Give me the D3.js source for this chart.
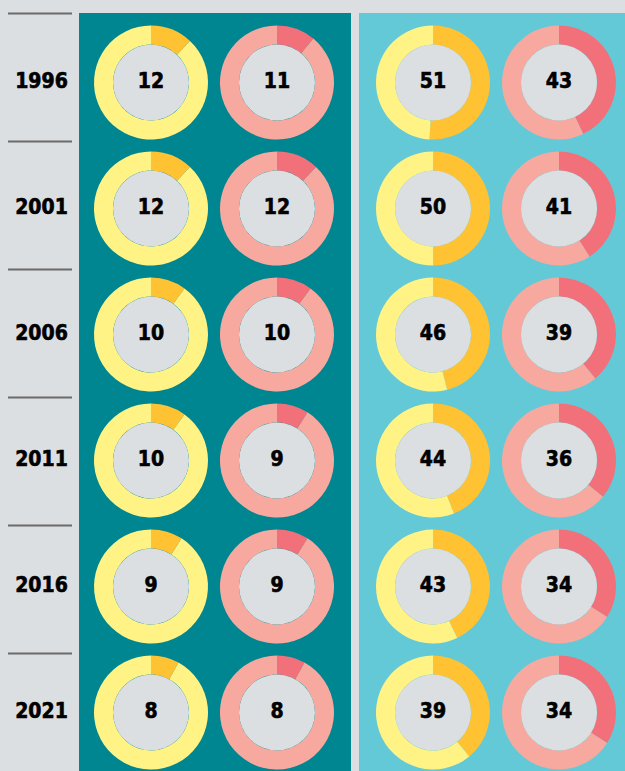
<!DOCTYPE html>
<html>
<head>
<meta charset="utf-8">
<script src="https://cdn.jsdelivr.net/npm/d3@7/dist/d3.min.js"></script>
<style>
  html, body { margin: 0; padding: 0; background: #dcdfe2; }
  svg { display: block; }
</style>
</head>
<body>
<svg id="chart" width="625" height="771"></svg>
<script>
// ---- Data ----
const years = ["1996", "2001", "2006", "2011", "2016", "2021"];
const columns = ["a", "b", "c", "d"];
const seriesA = [12, 12, 10, 10, 9, 8];   // yellow, dark panel
const seriesB = [11, 12, 10, 9, 9, 8];    // pink, dark panel
const seriesC = [51, 50, 46, 44, 43, 39]; // yellow, light panel
const seriesD = [43, 41, 39, 36, 34, 34]; // pink, light panel
const seriesList = [seriesA, seriesB, seriesC, seriesD];

// ---- Styles ----
const W = 625, H = 771;
const bg = "#dcdfe2";
const palettes = [
  { dark: "#ffc233", light: "#fff385" },
  { dark: "#f2707a", light: "#f8a99f" },
  { dark: "#ffc233", light: "#fff385" },
  { dark: "#f2707a", light: "#f8a99f" }
];
const font = "'DejaVu Sans Condensed', 'DejaVu Sans', Roboto, sans-serif";

const svg = d3.select("#chart");
svg.append("rect").attr("width", W).attr("height", H).attr("fill", bg);

// panels
svg.append("rect").attr("x", 79).attr("y", 13).attr("width", 272).attr("height", H - 13).attr("fill", "#008691");
svg.append("rect").attr("x", 359).attr("y", 13).attr("width", W - 359).attr("height", H - 13).attr("fill", "#64c9d7");

// scales
const yRow = d3.scalePoint().domain(years).range([82.5, 712.5]);
const yLine = d3.scalePoint().domain(years).range([13.5, 653.5]);
const xCol = d3.scaleOrdinal().domain(columns).range([151, 277, 433, 559]);

// separator lines
svg.selectAll("line.sep").data(years).enter().append("line")
  .attr("class", "sep")
  .attr("x1", 8).attr("x2", 72)
  .attr("y1", d => yLine(d)).attr("y2", d => yLine(d))
  .attr("stroke", "#6b6b6b").attr("stroke-width", 2);

// year labels
svg.selectAll("text.year").data(years).enter().append("text")
  .attr("class", "year")
  .attr("x", 41.5).attr("y", d => yRow(d) - 1.5)
  .attr("text-anchor", "middle").attr("dominant-baseline", "central")
  .attr("font-family", font).attr("font-weight", "bold").attr("font-size", 21)
  .attr("fill", "#000").attr("stroke", "#000").attr("stroke-width", 0.6)
  .text(d => d);

const rOuter = 57, rInner = 38;
const arc = d3.arc().innerRadius(rInner).outerRadius(rOuter);
const pie = d3.pie().sort(null).value(d => d);

columns.forEach((col, ci) => {
  const vals = seriesList[ci];
  years.forEach((yr, ri) => {
    const v = vals[ri];
    const g = svg.append("g").attr("transform", `translate(${xCol(col)},${yRow(yr)})`);
    const arcs = pie([v, 100 - v]);
    g.selectAll("path").data(arcs).enter().append("path")
      .attr("d", arc)
      .attr("fill", (d, i) => i === 0 ? palettes[ci].dark : palettes[ci].light);
    g.append("circle").attr("r", rInner).attr("fill", bg);
    g.append("text")
      .attr("y", -1.5)
      .attr("text-anchor", "middle").attr("dominant-baseline", "central")
      .attr("font-family", font).attr("font-weight", "bold").attr("font-size", 21)
      .attr("fill", "#000").attr("stroke", "#000").attr("stroke-width", 0.6)
      .text(v);
  });
});
</script>
</body>
</html>
